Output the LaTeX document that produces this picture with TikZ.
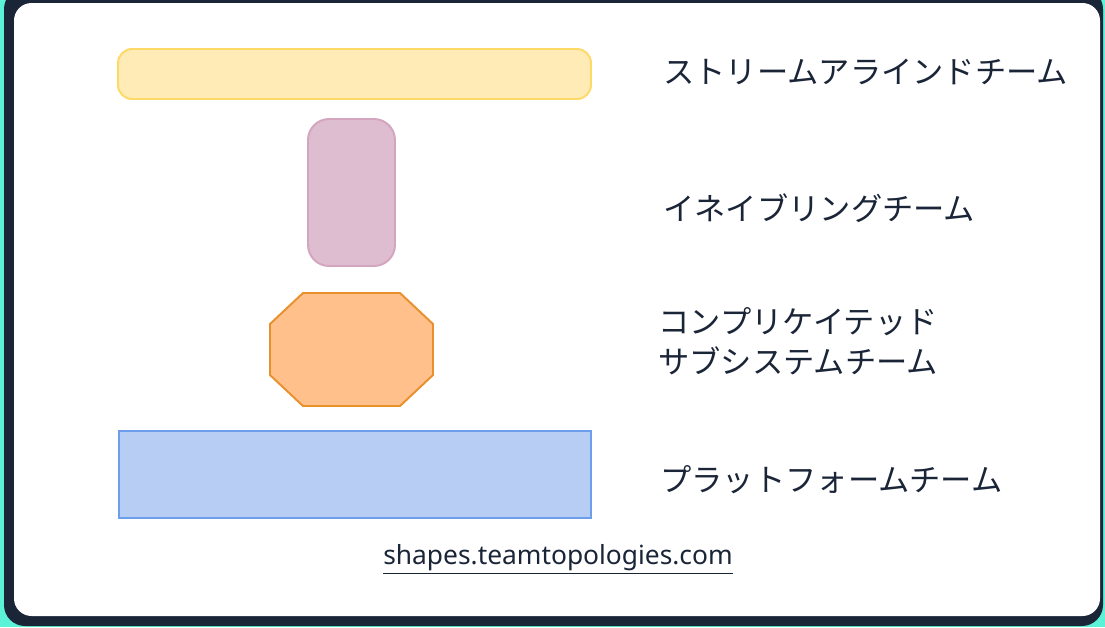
\documentclass[tikz,border=0pt]{standalone}
\usepackage{fontspec}
\newfontfamily\jpfont{Noto Sans CJK JP}
\newfontfamily\linkfont{Noto Sans}
\definecolor{navy}{HTML}{1B2538}
\definecolor{teal}{HTML}{5CF2D8}
\definecolor{streamfill}{HTML}{FFEBB6}
\definecolor{streamline}{HTML}{FFD966}
\definecolor{enablefill}{HTML}{DFBDD0}
\definecolor{enableline}{HTML}{D3A5BE}
\definecolor{subsysfill}{HTML}{FFC08C}
\definecolor{subsysline}{HTML}{E8912C}
\definecolor{platfill}{HTML}{B8CDF3}
\definecolor{platline}{HTML}{6D9EEB}
\tikzset{
  teamlabel/.style={anchor=west,text=navy,font=\jpfont\fontsize{17.8}{22.6}\selectfont,inner sep=0pt,align=left},
  teamshape/.style={line width=1.1pt,inner sep=0pt}
}
\begin{document}
\begin{tikzpicture}[x=0.02cm,y=-0.02cm]
  \useasboundingbox (0,0) rectangle (1105,627);
  % frame
  \fill[teal] (0,0) rectangle (1105,627);
  \fill[navy,rounded corners=12] (4,-12) rectangle (1103,626);
  \fill[white,rounded corners=10] (14,3) rectangle (1100,616);
  % shapes
  \node[teamshape,draw=streamline,fill=streamfill,rounded corners=8,
        minimum width=473*0.02cm,minimum height=50*0.02cm] (stream) at (354.5,74) {};
  \node[teamshape,draw=enableline,fill=enablefill,rounded corners=12,
        minimum width=87*0.02cm,minimum height=147*0.02cm] (enabling) at (351.5,192.5) {};
  \draw[teamshape,draw=subsysline,fill=subsysfill]
    (303,293) -- (400,293) -- (433,324) -- (433,375) -- (400,406)
    -- (303,406) -- (270,375) -- (270,324) -- cycle;
  \node[teamshape,draw=platline,fill=platfill,
        minimum width=472*0.02cm,minimum height=87*0.02cm] (platform) at (355,474.5) {};
  % labels
  \node[teamlabel] (streamlbl) at (663,72) {ストリームアラインドチーム};
  \node[teamlabel] (enablinglbl) at (663,208) {イネイブリングチーム};
  \node[teamlabel] (subsyslbl) at (658,341) {コンプリケイテッド\\サブシステムチーム};
  \node[teamlabel] (platformlbl) at (660,480) {プラットフォームチーム};
  \node[text=navy,font=\linkfont\fontsize{15}{18}\selectfont] (link) at (558,559)
    {\underline{shapes.teamtopologies.com}};
\end{tikzpicture}
\end{document}
